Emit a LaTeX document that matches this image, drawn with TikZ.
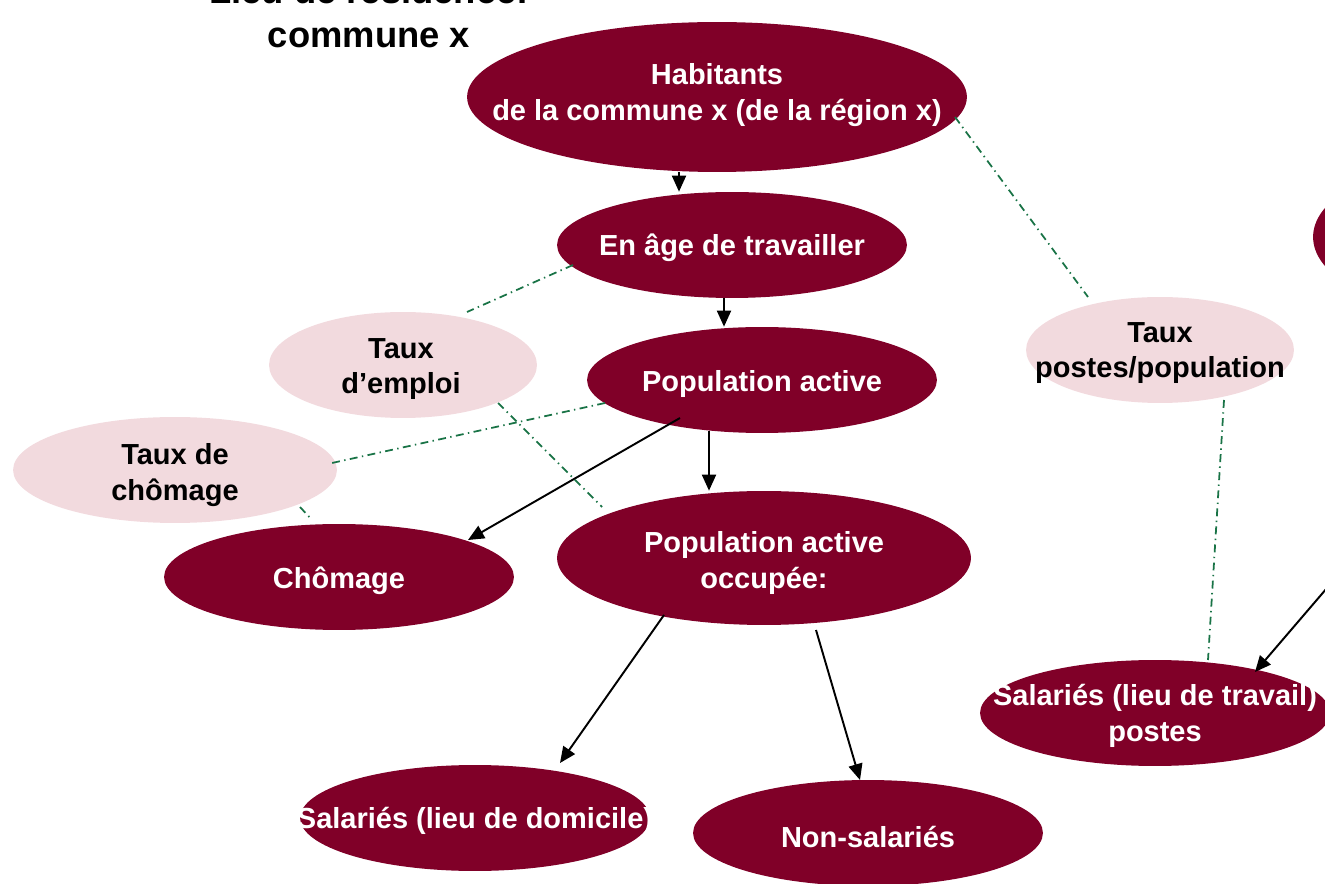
\documentclass[tikz,border=0pt]{standalone}
\usepackage{fontspec}
\setmainfont{Liberation Sans}
\usetikzlibrary{shapes.geometric,arrows.meta,calc}
\definecolor{maroon}{RGB}{128,0,40}
\definecolor{pinkish}{RGB}{242,218,222}
\definecolor{dgreen}{RGB}{25,115,70}
\begin{document}
\begin{tikzpicture}[x=0.02cm,y=-0.02cm,
  ell/.style={ellipse, draw=none, inner sep=0pt},
  sz/.style 2 args={minimum width={#1*0.04cm}, minimum height={#2*0.04cm}},
  dark/.style={ell, fill=maroon},
  light/.style={ell, fill=pinkish},
  wtxt/.style={text=white, font=\bfseries\fontsize{16.5}{20.4}\selectfont, align=center, inner sep=0pt},
  btxt/.style={text=black, font=\bfseries\fontsize{16.5}{20.4}\selectfont, align=center, inner sep=0pt},
  ttl/.style={text=black, font=\bfseries\fontsize{20.7}{24.8}\selectfont, inner sep=0pt, anchor=base},
  arr/.style={-{Triangle[length=0.32cm,width=0.28cm]}, line width=1.1pt, black},
  dd/.style={dgreen, line width=1pt, dash pattern=on 4.5pt off 2.5pt on 0.8pt off 2.5pt}]
\useasboundingbox (0,0) rectangle (1325,884);

% ellipses
\node[dark, sz={250}{75}] (hab) at (717,97) {};
\node[dark, sz={175}{53}] (age) at (732,245) {};
\node[dark, sz={175}{53}] (pop) at (762,380) {};
\node[light, sz={134}{53}] (temp) at (403,365) {};
\node[light, sz={162}{53}] (tcho) at (175,470) {};
\node[dark, sz={175}{53}] (chom) at (339,577) {};
\node[dark, sz={207}{67}] (occ) at (764,558) {};
\node[dark, sz={175}{53}] (sald) at (475,818) {};
\node[dark, sz={175}{53}] (nons) at (868,833) {};
\node[light, sz={134}{53}] (tpp) at (1160,350) {};
\node[dark, sz={175}{53}] (salt) at (1155,713) {};
\node[dark, sz={175}{80}] (offe) at (1488,237) {};
\coordinate (offr) at (1345,567);

% title
\node[ttl] (t1) at (369,4) {Lieu de résidence:};
\node[ttl] (t2) at (369,48) {commune x};

% arrow start points
\coordinate (s1) at ($(hab)+(-38,75)$);
\coordinate (s2) at ($(age)+(-8,53)$);
\coordinate (s3) at ($(pop)+(-53,51)$);

% arrows
\draw[arr] (s1) -- (s1 |- age.north);
\draw[arr] (s2) -- (s2 |- pop.north);
\draw[arr] (s3) -- (s3 |- occ.north);
\draw[arr] ($(pop)+(-82,38)$) -- ($(chom)+(129,-37)$);
\draw[arr] ($(occ)+(-100,57)$) -- ($(sald)+(85,-55)$);
\draw[arr] ($(occ)+(52,72)$) -- ($(nons)+(-8,-53)$);
\draw[arr] (offr) -- ($(salt)+(100,-41)$);

% dash-dot links
\draw[dd] ($(hab)+(238,20)$) -- ($(tpp)+(-72,-53)$);
\draw[dd] ($(age)+(-159,20)$) -- ($(temp)+(64,-53)$);
\draw[dd] ($(temp)+(95,38)$) -- ($(occ)+(-162,-51)$);
\draw[dd] ($(pop)+(-157,23)$) -- ($(tcho)+(157,-7)$);
\draw[dd] ($(tcho)+(125,37)$) -- ($(chom)+(-27,-57)$);
\draw[dd] ($(tpp)+(64,50)$) -- ($(salt)+(53,-53)$);

% texts
\node[wtxt] (lhab) at (717,95) {Habitants\\de la commune x (de la région x)};
\node[wtxt] (lage) at (732,248) {En âge de travailler};
\node[wtxt] (lpop) at (762,384) {Population active};
\node[btxt] (ltemp) at (401,369) {Taux\\d’emploi};
\node[btxt] (ltcho) at (175,475) {Taux de\\chômage};
\node[wtxt] (lchom) at (339,581) {Chômage};
\node[wtxt] (locc) at (764,563) {Population active\\occupée:};
\node[wtxt] (lsald) at (475,821) {Salariés (lieu de domicile)};
\node[wtxt] (lnons) at (868,837) {Non-salariés};
\node[btxt] (ltpp) at (1160,353) {Taux\\postes/population};
\node[wtxt] (lsalt) at (1155,716) {Salariés (lieu de travail)\\postes};
\end{tikzpicture}
\end{document}
